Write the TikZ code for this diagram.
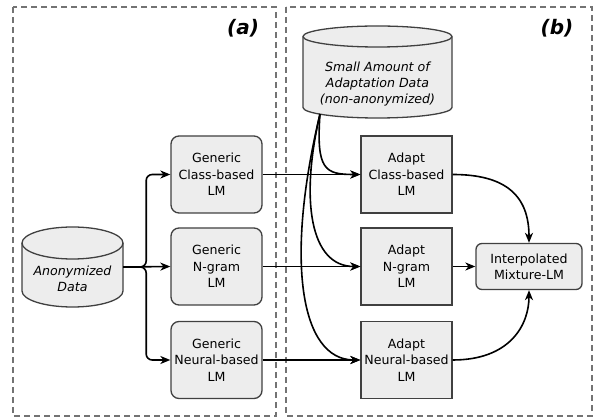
\documentclass[tikz,border=0pt]{standalone}
\usepackage{fontspec}
\setmainfont{DejaVu Sans}
\usetikzlibrary{arrows.meta}

\tikzset{
  genbox/.style={draw=black!75, line width=1.3pt, fill=black!7, rounded corners=8pt,
    minimum width=91pt, minimum height=77pt, align=center, inner sep=0pt},
  adaptbox/.style={draw=black!75, line width=1.3pt, fill=black!7,
    minimum width=91pt, minimum height=77pt, align=center, inner sep=0pt},
  mixbox/.style={draw=black!75, line width=1.3pt, fill=black!7, rounded corners=6pt,
    minimum width=106pt, minimum height=46pt, align=center, inner sep=0pt},
  cyl/.style={draw=black!75, line width=1.3pt, fill=black!7},
  frame/.style={draw=black!55, line width=1.3pt, dash pattern=on 6pt off 4pt},
  flow/.style={line width=1.6pt, -{Stealth[length=10pt,width=8pt,inset=3pt]}},
  tag/.style={font=\fontsize{20}{24}\selectfont\bfseries\itshape},
  cyltext/.style={align=center, font=\fontsize{12.6}{16.3}\selectfont\itshape},
}

\begin{document}
\begin{tikzpicture}[x=1pt, y=-1pt, font=\fontsize{12.6}{16.3}\selectfont]
  \useasboundingbox (0,0) rectangle (597,419);

  % dashed frames
  \draw[frame] (13,7) rectangle (276,416);
  \draw[frame] (286,7) rectangle (592,416);
  \node[tag] (taga) at (243,28) {(a)};
  \node[tag] (tagb) at (557,28) {(b)};

  % anonymized data
  \filldraw[cyl] (22,243) -- (22,291) arc[start angle=180, end angle=360, x radius=50.5pt, y radius=16pt]
    -- (123,243) arc[start angle=0, end angle=180, x radius=50.5pt, y radius=16pt] -- cycle;
  \draw[cyl, fill=none] (22,243) arc[start angle=180, end angle=360, x radius=50.5pt, y radius=16pt];
  \node[minimum width=101pt, minimum height=80pt, inner sep=0pt] (anon) at (72.5,267) {};
  \node[cyltext] (anontext) at (72.5,279) {Anonymized\\Data};

  % adaptation data
  \filldraw[cyl] (303,36.5) -- (303,107.5) arc[start angle=180, end angle=360, x radius=74.5pt, y radius=10.5pt]
    -- (452,36.5) arc[start angle=0, end angle=180, x radius=74.5pt, y radius=10.5pt] -- cycle;
  \draw[cyl, fill=none] (303,36.5) arc[start angle=180, end angle=360, x radius=74.5pt, y radius=10.5pt];
  \node[minimum width=149pt, minimum height=92pt, inner sep=0pt] (small) at (377.5,72) {};
  \node[cyltext] (smalltext) at (377.5,84) {Small Amount of\\Adaptation Data\\(non-anonymized)};
  \coordinate (smallout) at (320,114);

  % generic models
  \node[genbox] (gclass) at (216.5,174.5) {Generic\\Class-based\\LM};
  \node[genbox] (gngram) at (216.5,266.5) {Generic\\N-gram\\LM};
  \node[genbox] (gneural) at (216.5,360) {Generic\\Neural-based\\LM};

  % adapted models
  \node[adaptbox] (aclass) at (406.5,174.5) {Adapt\\Class-based\\LM};
  \node[adaptbox] (angram) at (406.5,266.5) {Adapt\\N-gram\\LM};
  \node[adaptbox] (aneural) at (406.5,360) {Adapt\\Neural-based\\LM};

  \node[mixbox] (mix) at (529,266.5) {Interpolated\\Mixture-LM};

  % connectors
  \draw[flow, rounded corners=6pt] (anon.east) -- ++(23,0) |- (gclass.west);
  \draw[flow] (anon.east) -- (gngram.west);
  \draw[flow, rounded corners=6pt] (anon.east) -- ++(23,0) |- (gneural.west);

  \draw[flow] (gclass.east) -- (aclass.west);
  \draw[flow] (gngram.east) -- (angram.west);
  \draw[flow] (gneural.east) -- (aneural.west);

  \draw[flow] (smallout) .. controls (316,170) and (325,174.5) .. (aclass.west);
  \draw[flow] (smallout) .. controls (300,200) and (310,266.5) .. (angram.west);
  \draw[flow] (smallout) .. controls (285,260) and (300,360) .. (aneural.west);

  \draw[flow] (aclass.east) .. controls (505,174.5) and (529,195) .. (mix.north);
  \draw[flow] (angram.east) -- (mix.west);
  \draw[flow] (aneural.east) .. controls (510,360) and (529,325) .. (mix.south);
\end{tikzpicture}
\end{document}
